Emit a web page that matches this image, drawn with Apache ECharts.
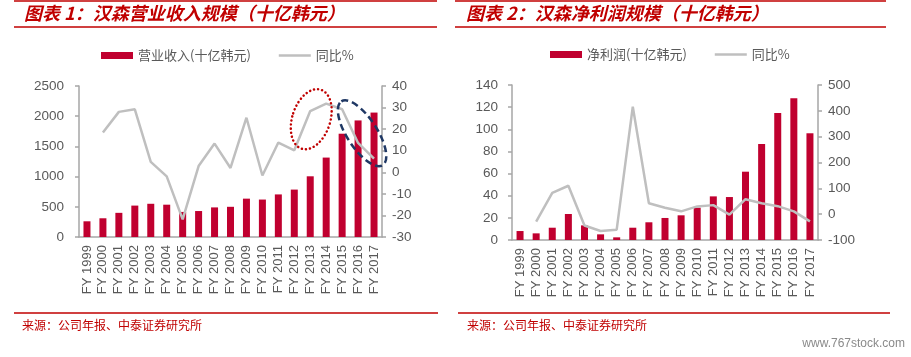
<!DOCTYPE html>
<html><head><meta charset="utf-8">
<script src="https://cdn.jsdelivr.net/npm/echarts@6/dist/echarts.min.js"></script>
<style>html,body{margin:0;padding:0;background:#fff}#c{width:911px;height:357px}</style>
</head><body><div id="c"></div>
<script>
// ---- data ----
var categories = ['FY 1999','FY 2000','FY 2001','FY 2002','FY 2003','FY 2004','FY 2005','FY 2006','FY 2007','FY 2008','FY 2009','FY 2010','FY 2011','FY 2012','FY 2013','FY 2014','FY 2015','FY 2016','FY 2017'];
var revenue = [260, 310, 400, 520, 550, 535, 415, 430, 490, 500, 635, 620, 705, 785, 1005, 1315, 1710, 1930, 2060];
var revenueYoY = [null, 18.4, 28.0, 29.2, 4.8, -1.9, -21.8, 2.9, 13.3, 2.0, 25.3, -1.5, 13.8, 10.2, 28.4, 31.8, 29.2, 13.6, 6.3];
var profit = [8.1, 6.0, 11.1, 23.5, 13.2, 5.1, 2.4, 11.1, 16.0, 19.9, 22.3, 29.2, 39.4, 38.8, 61.7, 86.7, 114.7, 128, 96.4];
var profitYoY = [null, -29, 82, 110, -44, -65, -60, 416, 42, 25, 11, 30, 35, -2, 58, 42, 31, 11, -28];
var title1 = '图表 1：汉森营业收入规模（十亿韩元）';
var title2 = '图表 2：汉森净利润规模（十亿韩元）';
var barName1 = '营业收入(十亿韩元)', barName2 = '净利润(十亿韩元)', lineName = '同比%';
var sourceText = '来源：公司年报、中泰证券研究所';
var watermark = 'www.767stock.com';

var RED = '#C0002F', DARKRED = '#C00000', GREY = '#BFBFBF', AX = '#A6A6A6', LBL = '#595959';
var tickFont = 'Liberation Sans';

function xAxis(grid){
  return {type:'category', gridIndex:grid, data:categories,
    axisLine:{lineStyle:{color:AX,width:1.5}}, axisTick:{length:4,lineStyle:{color:AX,width:1.5}},
    axisLabel:{rotate:90, color:LBL, fontSize:13, fontFamily:tickFont, margin:8, interval:0}};
}
function yAxis(grid, pos, min, max, iv, margin){
  return {type:'value', gridIndex:grid, position:pos, min:min, max:max, interval:iv,
    splitLine:{show:false},
    axisLine:{show:true, lineStyle:{color:AX,width:1.5}}, axisTick:{show:true,length:4,lineStyle:{color:AX,width:1.5}},
    axisLabel:{color:LBL, fontSize:13.5, fontFamily:tickFont, margin:margin, formatter:function(v){return String(v);}}};
}
var chart = echarts.init(document.getElementById('c'), null, {renderer:'canvas'});
var legendText = {color:LBL, fontSize:13, fontFamily:'Noto Sans CJK SC'};
var lineIcon = 'path://M0 0H32V2.6H0Z';
var option = {
  animation:false,
  backgroundColor:'#fff',
  grid:[{left:79, top:86, width:303, height:151},{left:512, top:85, width:306, height:155}],
  xAxis:[xAxis(0), xAxis(1)],
  yAxis:[yAxis(0,'left',0,2500,500,15), yAxis(0,'right',-30,40,10,10),
         yAxis(1,'left',0,140,20,14), yAxis(1,'right',-100,500,100,10)],
  legend:[
    {left:101, top:49, padding:0, itemWidth:32, itemHeight:7, itemGap:28, data:[{name:barName1, icon:'rect'}, {name:lineName, icon:lineIcon}], textStyle:legendText},
    {left:550, top:48, padding:0, itemWidth:32, itemHeight:7, itemGap:28, data:[{name:barName2, icon:'rect'}, {name:lineName+' ', icon:lineIcon}], textStyle:legendText,
     formatter:function(n){return n.trim();}}
  ],
  series:[
    {name:barName1, type:'bar', xAxisIndex:0, yAxisIndex:0, data:revenue, barWidth:7, itemStyle:{color:RED}},
    {name:lineName, type:'line', xAxisIndex:0, yAxisIndex:1, data:revenueYoY, symbol:'none', lineStyle:{color:GREY,width:2.5}, itemStyle:{color:GREY}},
    {name:barName2, type:'bar', xAxisIndex:1, yAxisIndex:2, data:profit, barWidth:7, itemStyle:{color:RED}},
    {name:lineName+' ', type:'line', xAxisIndex:1, yAxisIndex:3, data:profitYoY, symbol:'none', lineStyle:{color:GREY,width:2.5}, itemStyle:{color:GREY}}
  ]
};
chart.setOption(option);

// annotation ellipses, placed with the chart's own scales
var pRed = chart.convertToPixel({xAxisIndex:0, yAxisIndex:1}, [14, 24.6]);
var pBlue = chart.convertToPixel({xAxisIndex:0, yAxisIndex:1}, [17, 18.1]);
var g = [];
function hline(x1,x2,y){ g.push({type:'line', shape:{x1:x1,y1:y,x2:x2,y2:y}, style:{stroke:DARKRED, lineWidth:1.5}, z:10}); }
hline(14,437,1); hline(14,437,27); hline(455,886,1); hline(455,886,27);
hline(14,438,313); hline(458,890,313);
var titleStyle = {fill:DARKRED, font:'italic bold 18px "Noto Sans CJK SC"'};
g.push({type:'text', left:24, top:4, style:Object.assign({text:title1}, titleStyle)});
g.push({type:'text', left:466, top:4, style:Object.assign({text:title2}, titleStyle)});
var srcStyle = {fill:DARKRED, font:'12px "Noto Sans CJK SC"'};
g.push({type:'text', left:22, top:319, style:Object.assign({text:sourceText}, srcStyle)});
g.push({type:'text', left:467, top:319, style:Object.assign({text:sourceText}, srcStyle)});
g.push({type:'text', right:6, top:338, style:{text:watermark, fill:'#8A8A8A', font:'12px "Liberation Sans Narrow","Liberation Sans"'}});
g.push({type:'ellipse', x:pRed[0]+1, y:pRed[1], rotation:-18*Math.PI/180, shape:{cx:0,cy:0,rx:19,ry:31},
  style:{fill:null, stroke:'#C00000', lineWidth:2.5, lineDash:[0.1,4], lineCap:'round'}, z:20});
g.push({type:'ellipse', x:pBlue[0]+4, y:pBlue[1], rotation:-57*Math.PI/180, shape:{cx:0,cy:0,rx:38,ry:15},
  style:{fill:null, stroke:'#1F3864', lineWidth:2.5, lineDash:[7,4]}, z:20});
chart.setOption({graphic:g});
</script></body></html>
